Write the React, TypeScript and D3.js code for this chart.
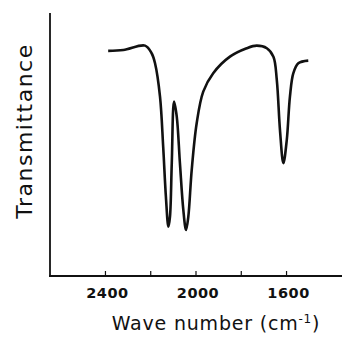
import React, { useEffect, useRef } from 'react';
import * as d3 from 'd3';

// spectrum: wave number (cm-1) and transmittance (%)
const waveNumbers = [2388, 2321, 2225, 2196, 2181, 2159, 2145, 2133, 2122, 2115, 2107, 2097, 2085, 2071, 2056, 2044, 2034, 2019, 1997, 1968, 1924, 1850, 1776, 1732, 1687, 1658, 1643, 1629, 1614, 1599, 1585, 1570, 1548, 1504];
const transmittance = [85.6, 85.9, 87.6, 84.7, 80.9, 68.2, 49.2, 30.2, 18.7, 22.5, 43.0, 66.3, 60.6, 42.9, 25.1, 17.5, 22.5, 40.3, 58.1, 70.1, 77.1, 83.4, 86.6, 87.6, 86.6, 83.4, 74.5, 55.5, 42.9, 51.7, 68.2, 77.1, 80.9, 81.9];
const tickValues = [2400, 2200, 2000, 1800, 1600];
const labelledTicks = [2400, 2000, 1600];

const W = 342;
const H = 339;

export default function App() {
  const svgRef = useRef<SVGSVGElement>(null);

  useEffect(() => {
    if (!svgRef.current) return;
    const svg = d3.select(svgRef.current);
    svg.selectAll('*').remove();

    const left = 50;
    const top = 13;
    const bottom = 276;

    const x = d3.scaleLinear().domain([2645, 1355]).range([left, W]);
    const y = d3.scaleLinear().domain([0, 100]).range([bottom, top]);

    const data = waveNumbers.map((w, i) => ({ w, t: transmittance[i] }));

    // axes lines
    svg.append('line')
      .attr('x1', left).attr('x2', left)
      .attr('y1', top).attr('y2', bottom)
      .attr('stroke', '#111').attr('stroke-width', 1.8);

    svg.append('line')
      .attr('x1', left - 1).attr('x2', W)
      .attr('y1', bottom).attr('y2', bottom)
      .attr('stroke', '#111').attr('stroke-width', 1.8);

    // ticks point up into the plot
    svg.append('g')
      .selectAll('line')
      .data(tickValues)
      .join('line')
      .attr('x1', d => x(d)).attr('x2', d => x(d))
      .attr('y1', bottom).attr('y2', bottom - 5)
      .attr('stroke', '#111').attr('stroke-width', 1.2);

    svg.append('g')
      .selectAll('text')
      .data(labelledTicks)
      .join('text')
      .attr('x', d => x(d) + 2)
      .attr('y', 298)
      .attr('text-anchor', 'middle')
      .style('font-family', 'DejaVu Sans')
      .style('font-size', '14.5px')
      .style('font-weight', 'bold')
      .style('letter-spacing', '0.5px')
      .style('fill', '#111')
      .text(d => d);

    // spectrum
    const line = d3.line<any>()
      .x(d => x(d.w))
      .y(d => y(d.t))
      .curve(d3.curveCatmullRom.alpha(0.5));

    svg.append('path')
      .datum(data)
      .attr('fill', 'none')
      .attr('stroke', '#111')
      .attr('stroke-width', 2.6)
      .attr('stroke-linejoin', 'round')
      .attr('d', line);

    // axis titles
    const xt = svg.append('text')
      .attr('x', 216)
      .attr('y', 330)
      .attr('text-anchor', 'middle')
      .style('font-family', 'DejaVu Sans')
      .style('font-size', '19px')
      .style('letter-spacing', '0.8px')
      .style('fill', '#111');
    xt.append('tspan').text('Wave number (cm');
    xt.append('tspan').attr('dy', -7).style('font-size', '12px').text('-1');
    xt.append('tspan').attr('dy', 7).text(')');

    svg.append('text')
      .attr('transform', `translate(32,${131}) rotate(-90)`)
      .attr('text-anchor', 'middle')
      .style('font-family', 'DejaVu Sans')
      .style('font-size', '22px')
      .style('letter-spacing', '1.5px')
      .style('fill', '#111')
      .text('Transmittance');
  }, []);

  return (
    <svg
      ref={svgRef}
      width={W}
      height={H}
      viewBox={`0 0 ${W} ${H}`}
      style={{ position: 'absolute', left: 0, top: 0, background: '#fff' }}
    />
  );
}
